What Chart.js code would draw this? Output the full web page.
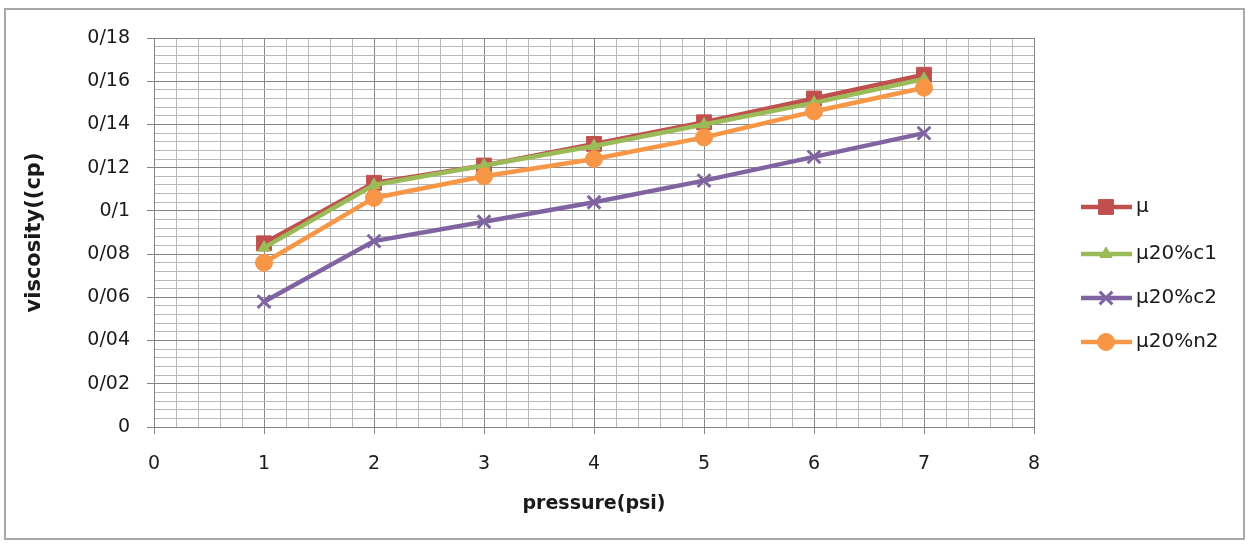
<!DOCTYPE html>
<html>
<head>
<meta charset="utf-8">
<script src="https://cdn.jsdelivr.net/npm/chart.js@4/dist/chart.umd.min.js"></script>
<style>
  html, body { margin: 0; padding: 0; background: #fff; }
  canvas { display: block; }
</style>
</head>
<body>
<canvas id="viscosityChart" width="1250" height="544"></canvas>
<script>
// pressure (psi) vs viscosity (cp) for the four fluids
const pressure = [1, 2, 3, 4, 5, 6, 7];
const muBase = [0.085, 0.113, 0.121, 0.131, 0.141, 0.152, 0.163];
const muC1 = [0.083, 0.112, 0.121, 0.130, 0.140, 0.150, 0.161];
const muC2 = [0.058, 0.086, 0.095, 0.104, 0.114, 0.125, 0.136];
const muN2 = [0.076, 0.106, 0.116, 0.124, 0.134, 0.146, 0.157];

const seriesNames = ['μ', 'μ20%c1', 'μ20%c2', 'μ20%n2'];
const xTickLabels = ['0', '1', '2', '3', '4', '5', '6', '7', '8'];
const yTickLabels = ['0', '0/02', '0/04', '0/06', '0/08', '0/1', '0/12', '0/14', '0/16', '0/18'];

const FONT = "'DejaVu Sans', sans-serif";
const TEXT = '#1a1a1a';
const MAJOR = '#858585';
const MINOR = '#b8b8b8';

const toPoints = vals => pressure.map((p, i) => ({ x: p, y: vals[i] }));

function series(label, vals, color, style, radius, order) {
  return {
    label: label,
    data: toPoints(vals),
    borderColor: color,
    backgroundColor: color,
    borderWidth: 4.5,
    pointStyle: style,
    pointRadius: radius,
    pointBorderWidth: style === 'crossRot' ? 3 : 1,
    pointBackgroundColor: color,
    pointBorderColor: color,
    tension: 0,
    order: order
  };
}

// white background, outer frame and the key on the right
const frameAndKey = {
  id: 'frameAndKey',
  beforeDraw(chart) {
    const ctx = chart.ctx;
    ctx.save();
    ctx.fillStyle = '#fff';
    ctx.fillRect(0, 0, chart.width, chart.height);
    ctx.restore();
  },
  afterDraw(chart) {
    const ctx = chart.ctx;
    ctx.save();
    ctx.strokeStyle = '#a8a8a8';
    ctx.lineWidth = 2;
    ctx.strokeRect(5, 9, 1239, 530);

    const keyY = [207, 254, 298, 342];
    chart.data.datasets.forEach((ds, i) => {
      const y = keyY[i];
      ctx.strokeStyle = ds.borderColor;
      ctx.lineWidth = ds.borderWidth;
      ctx.beginPath();
      ctx.moveTo(1081, y);
      ctx.lineTo(1132, y);
      ctx.stroke();
      ctx.fillStyle = ds.pointBackgroundColor;
      ctx.strokeStyle = ds.pointBorderColor;
      ctx.lineWidth = ds.pointBorderWidth;
      if (Chart.helpers && Chart.helpers.drawPoint) {
        Chart.helpers.drawPoint(ctx, {
          pointStyle: ds.pointStyle,
          radius: ds.pointRadius,
          borderWidth: ds.pointBorderWidth,
          rotation: 0
        }, 1106, y);
      }
      ctx.fillStyle = TEXT;
      ctx.font = '20px ' + FONT;
      ctx.textBaseline = 'middle';
      ctx.textAlign = 'left';
      ctx.fillText(seriesNames[i], 1136, y);
    });
    ctx.restore();
  }
};

const isMajorX = v => Math.abs(v - Math.round(v)) < 1e-6;
const isMajorY = v => Math.round(v * 250) % 5 === 0;

new Chart(document.getElementById('viscosityChart'), {
  type: 'line',
  data: {
    datasets: [
      series(seriesNames[0], muBase, '#C0504D', 'rect', 10.5, 4),
      series(seriesNames[1], muC1, '#9BBB59', 'triangle', 7, 3),
      series(seriesNames[2], muC2, '#8064A2', 'crossRot', 9, 2),
      series(seriesNames[3], muN2, '#F79646', 'circle', 8.5, 1)
    ]
  },
  options: {
    responsive: false,
    animation: false,
    devicePixelRatio: 1,
    layout: { padding: { left: 0, top: 38, right: 216, bottom: 0 } },
    plugins: {
      legend: { display: false },
      tooltip: { enabled: false }
    },
    scales: {
      x: {
        type: 'linear',
        min: 0,
        max: 8,
        afterFit: s => { s.height = 117; },
        ticks: {
          stepSize: 0.2,
          autoSkip: false,
          maxRotation: 0,
          minRotation: 0,
          padding: 19,
          color: TEXT,
          font: { family: FONT, size: 19 },
          callback: v => {
            const i = Math.round(v * 5);
            return i % 5 === 0 ? xTickLabels[i / 5] : '';
          }
        },
        grid: {
          color: c => isMajorX(c.tick.value) ? MAJOR : MINOR,
          tickColor: c => isMajorX(c.tick.value) ? MAJOR : 'rgba(0,0,0,0)',
          tickLength: 7,
          lineWidth: 1
        },
        border: { color: MAJOR, width: 1 },
        title: {
          display: true,
          text: 'pressure(psi)',
          color: TEXT,
          font: { family: FONT, size: 19, weight: 'bold' },
          padding: { top: 0, bottom: 29 }
        }
      },
      y: {
        min: 0,
        max: 0.18,
        afterFit: s => { s.width = 154; },
        ticks: {
          stepSize: 0.004,
          autoSkip: false,
          padding: 17,
          color: TEXT,
          font: { family: FONT, size: 19 },
          callback: v => {
            const i = Math.round(v * 250);
            return i % 5 === 0 ? yTickLabels[i / 5] : '';
          }
        },
        grid: {
          color: c => isMajorY(c.tick.value) ? MAJOR : MINOR,
          tickColor: c => isMajorY(c.tick.value) ? MAJOR : 'rgba(0,0,0,0)',
          tickLength: 7,
          lineWidth: 1
        },
        border: { color: MAJOR, width: 1 },
        title: {
          display: true,
          text: 'viscosity((cp)',
          color: TEXT,
          font: { family: FONT, size: 21, weight: 'bold' },
          padding: { top: 22, bottom: 0 }
        }
      }
    }
  },
  plugins: [frameAndKey]
});
</script>
</body>
</html>
